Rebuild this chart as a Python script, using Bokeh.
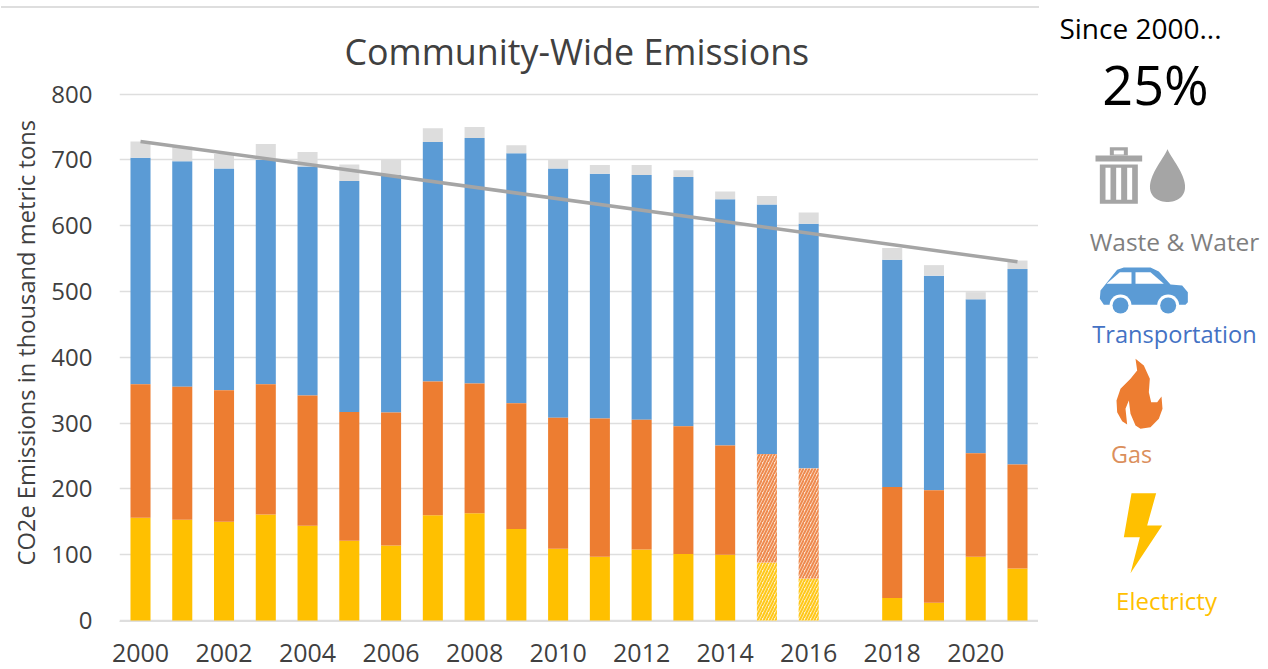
from bokeh.plotting import figure
from bokeh.layouts import row, column
from bokeh.models import Range1d, Label, FixedTicker, Title, Div
from bokeh.embed import file_html
from bokeh.resources import INLINE
import numpy as np

years = [2000,2001,2002,2003,2004,2005,2006,2007,2008,2009,2010,2011,2012,2013,2014,2015,2016,2018,2019,2020,2021]
electricity = [156,153,150,161,144,121,114,160,163,139,109,97,108,101,100,88,64,34,27,97,79]
gas = [203,202,200,198,198,196,202,203,197,191,199,210,197,194,166,165,167,169,171,157,158]
transport = [344,343,337,341,348,351,361,364,373,380,379,372,372,379,374,379,372,345,326,234,297]
waste = [25,22,22,24,22,25,23,21,17,12,13,13,15,10,12,13,17,18,16,11,13]
estimated_years = [2015, 2016]
trend_x = [2000, 2021]
trend_y = [728, 545]
y_ticks = [0,100,200,300,400,500,600,700,800]
x_ticks = [2000,2002,2004,2006,2008,2010,2012,2014,2016,2018,2020]

FONT = "Open Sans"
BLUE, ORANGE, YELLOW, GREY = "#5B9BD5", "#ED7D31", "#FFC000", "#DDDDDD"
TXT = "#404040"
W = 0.48

p = figure(width=1038, height=669, output_backend="svg", toolbar_location=None,
           x_range=Range1d(1999.497, 2021.503), y_range=Range1d(-1.52, 802.3),
           min_border_left=119, min_border_right=0, min_border_top=92, min_border_bottom=48,
           title="Community-Wide Emissions")
p.outline_line_color = None
p.title.align = "left"
p.title.text_font = FONT
p.title.text_font_size = "35.8px"
p.title.text_font_style = "normal"
p.title.text_color = TXT
p.title.offset = 225
p.title.standoff = 35

p.xgrid.visible = False
p.ygrid.ticker = FixedTicker(ticks=y_ticks)
p.ygrid.grid_line_color = "#DEDEDE"
p.ygrid.grid_line_width = 1.5

p.yaxis.ticker = FixedTicker(ticks=y_ticks)
p.xaxis.ticker = FixedTicker(ticks=x_ticks)
p.yaxis.axis_line_color = None
p.xaxis.axis_line_color = "#DEDEDE"
for ax in (p.xaxis[0], p.yaxis[0]):
    ax.major_tick_line_color = None
    ax.minor_tick_line_color = None
    ax.major_label_text_font = FONT
    ax.major_label_text_color = TXT
p.yaxis.major_label_text_font_size = "24px"
p.xaxis.major_label_text_font_size = "25px"
p.yaxis.major_label_standoff = 21
p.xaxis.major_label_standoff = 16

solid = [i for i, y in enumerate(years) if y not in estimated_years]
hatched = [i for i, y in enumerate(years) if y in estimated_years]
b0 = np.array(electricity, float)
b1 = b0 + np.array(gas)
b2 = b1 + np.array(transport)
b3 = b2 + np.array(waste)
yrs = np.array(years, float)

p.vbar(x=yrs, bottom=b1, top=b2, width=W, color=BLUE, line_color=None)
p.vbar(x=yrs, bottom=b2, top=b3, width=W, color=GREY, line_color=None)
p.vbar(x=yrs[solid], bottom=0, top=b0[solid], width=W, color=YELLOW, line_color=None)
p.vbar(x=yrs[solid], bottom=b0[solid], top=b1[solid], width=W, color=ORANGE, line_color=None)
p.vbar(x=yrs[hatched], bottom=0, top=b0[hatched], width=W, fill_color="#FFF2CC", line_color=None,
       hatch_pattern="right_diagonal_line", hatch_color="#FFC81A", hatch_weight=2, hatch_scale=6)
p.vbar(x=yrs[hatched], bottom=b0[hatched], top=b1[hatched], width=W, fill_color="#FBE3D3", line_color=None,
       hatch_pattern="right_diagonal_line", hatch_color="#EE8A4E", hatch_weight=2, hatch_scale=6)
p.line(trend_x, trend_y, line_color="#A5A5A5", line_width=3.5)

p.add_layout(Title(text="CO2e Emissions in thousand metric tons", align="left", offset=56, standoff=13,
                   text_font=FONT, text_font_size="23.7px", text_font_style="normal",
                   text_color=TXT), "left")

# Right-hand panel: ranges follow the picture's own pixels
s = figure(width=226, height=669, output_backend="svg", toolbar_location=None,
           x_range=Range1d(1038, 1264), y_range=Range1d(669, 0),
           min_border=0, outline_line_color=None)
s.axis.visible = False
s.grid.visible = False

def st(xs, ys, ox, oy):
    return [ox + x/3 for x in xs], [oy + y/3 for y in ys]

def text(x, y, t, color, size):
    lab = Label(x=x, y=y, text=t, text_color=color, text_font=FONT, text_font_size=size,
                text_align="center", text_baseline="middle")
    s.add_layout(lab)

text(1140, 27, "Since 2000...", "#000000", "28px")
text(1155, 83, "25%", "#000000", "54px")
text(1174, 241, "Waste & Water", "#7F7F7F", "24.5px")
text(1174, 333, "Transportation", "#4472C4", "23.6px")
text(1131, 453, "Gas", "#DB8F5C", "23.3px")
text(1166, 600, "Electricty", "#FFC000", "24px")

# trash can
G = "#A5A5A5"
ox, oy = 1050, 130
def rect(x0, x1, y0, y1, c):
    xs, ys = st([x0, x1, x1, x0], [y0, y0, y1, y1], ox, oy)
    s.patch(xs, ys, color=c, line_color=None)
rect(135, 275, 75, 93, G)
rect(178, 232, 50, 75, G)
rect(190, 220, 60, 72, "#FFFFFF")
rect(148, 262, 102, 220, G)
for a, b in ((165, 180), (197, 212), (230, 245)):
    rect(a, b, 112, 208, "#FFFFFF")

# drop
t = np.linspace(0, 2*np.pi, 80)
dx = 1167 + 25*np.sin(t)*np.sin(t/2)**1.5
dy = 148.5 + 53/2*(1-np.cos(t))
s.patch(dx, dy, color=G, line_color=None)

# car
xs, ys = st([150,200,220,300,325,360,395,412,412,405,160,148], [480,418,411,411,423,462,465,485,515,523,523,505], ox, oy)
s.patch(xs, ys, color=BLUE, line_color=None)
xs, ys = st([168,208,243,243], [460,425,425,460], ox, oy)
s.patch(xs, ys, color="#FFFFFF", line_color=None)
xs, ys = st([255,300,340,255], [425,425,460,460], ox, oy)
s.patch(xs, ys, color="#FFFFFF", line_color=None)
for cx in (210, 353):
    xs, ys = st([cx], [525], ox, oy)
    s.scatter(xs, ys, size=22, color="#FFFFFF", line_color=None)
    s.scatter(xs, ys, size=16, color=BLUE, line_color=None)

# flame and bolt
xs, ys = st([225,250,268,265,272,290,303,306,295,270,240,225,210,205,195,200,185,170,168,180,210,230],
            [25,45,85,125,155,155,138,175,205,230,235,225,190,150,175,222,212,185,150,115,85,60], 1060, 350)
s.patch(xs, ys, color="#ED7D31", line_color=None)
xs, ys = st([213,287,260,305,210,238,190], [428,428,525,525,668,560,560], 1060, 350)
s.patch(xs, ys, color=YELLOW, line_color=None)

rule = Div(text="", width=1038, height=2,
           styles={"position": "absolute", "left": "-4px", "top": "1px", "background": "#DEDEDE"})
layout = row(p, column(s), rule, spacing=0)
open("out.html", "w").write(file_html(layout, INLINE))
